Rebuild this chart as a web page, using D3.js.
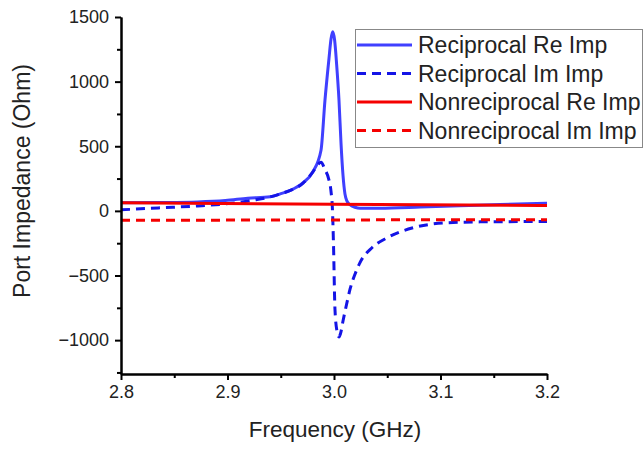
<!DOCTYPE html>
<html>
<head>
<meta charset="utf-8">
<script src="https://cdn.jsdelivr.net/npm/d3@7"></script>
<style>
  body { margin: 0; background: #fff; }
  text { font-family: "Liberation Sans", Arial, sans-serif; fill: #222; }
</style>
</head>
<body>
<div id="chart"></div>
<script>
// reciprocal case, real part (Ohm) vs frequency (GHz)
const recReFreq = [2.8, 2.835, 2.872, 2.898, 2.919, 2.94, 2.951, 2.959, 2.971, 2.98, 2.9878, 2.9915,
  2.9953, 2.9972, 2.9988, 3.0006, 3.0025, 3.0047, 3.0066, 3.0085, 3.0103, 3.0122, 3.015, 3.0197,
  3.0244, 3.043, 3.081, 3.118, 3.156, 3.2]
const recReVal = [62, 64, 69, 80, 98, 110, 135, 158, 218, 300, 469, 854,
  1180, 1330, 1385, 1320, 1130, 854, 520, 270, 130, 75, 48, 28,
  20, 21, 30, 40, 50, 60]

// reciprocal case, imaginary part
const recImFreq = [2.8, 2.835, 2.872, 2.898, 2.926, 2.94, 2.951, 2.959, 2.971, 2.98, 2.985, 2.9878,
  2.9915, 2.9953, 2.9972, 2.9986, 2.9995, 3.0009, 3.0028, 3.0047, 3.0061, 3.0085, 3.0122, 3.015,
  3.0197, 3.0244, 3.0357, 3.0498, 3.0742, 3.1061, 3.1371, 3.2]
const recImVal = [8, 23, 38, 54, 85, 108, 135, 158, 215, 300, 360, 377,
  320, 238, 150, 0, -250, -760, -930, -975, -950, -850, -708, -608,
  -490, -400, -285, -208, -131, -92, -85, -82]

// nonreciprocal case, nearly flat
const nonFreq = [2.8, 3.0, 3.2]
const nonReVal = [63, 52, 42]
const nonImVal = [-73, -70, -68]

const xTicks = [2.8, 2.9, 3.0, 3.1, 3.2]
const xMinor = [2.85, 2.95, 3.05, 3.15]
const yTicks = [-1000, -500, 0, 500, 1000, 1500]
const yMinor = [-1250, -750, -250, 250, 750, 1250]

const seriesNames = ['Reciprocal Re Imp', 'Reciprocal Im Imp', 'Nonreciprocal Re Imp', 'Nonreciprocal Im Imp']

const width = 644, height = 449
const svg = d3.select('#chart').append('svg')
  .attr('width', width).attr('height', height)

const x = d3.scaleLinear().domain([2.8, 3.2]).range([121, 547])
const y = d3.scaleLinear().domain([-1262, 1500]).range([374, 17])

const series = [
  { name: seriesNames[0], fx: recReFreq, v: recReVal, color: '#4040ff', dash: null },
  { name: seriesNames[1], fx: recImFreq, v: recImVal, color: '#1414e6', dash: '9,6' },
  { name: seriesNames[2], fx: nonFreq, v: nonReVal, color: '#f50000', dash: null },
  { name: seriesNames[3], fx: nonFreq, v: nonImVal, color: '#f50000', dash: '9,6' }
]

const line = d3.line()
  .x(d => x(d[0]))
  .y(d => y(d[1]))
  .curve(d3.curveMonotoneX)

series.forEach(s => {
  svg.append('path')
    .datum(s.fx.map((f, i) => [f, s.v[i]]))
    .attr('fill', 'none')
    .attr('stroke', s.color)
    .attr('stroke-width', 3)
    .attr('stroke-dasharray', s.dash)
    .attr('d', line)
})

// axes
const xAxis = svg.append('g').attr('transform', 'translate(0,374)')
  .call(d3.axisBottom(x).tickValues(xTicks).tickFormat(d3.format('.1f')).tickSize(6).tickSizeOuter(0).tickPadding(5))
const xAxisMinor = svg.append('g').attr('transform', 'translate(0,374)')
  .call(d3.axisBottom(x).tickValues(xMinor).tickFormat('').tickSize(4).tickSizeOuter(0))
const yAxis = svg.append('g').attr('transform', 'translate(121,0)')
  .call(d3.axisLeft(y).tickValues(yTicks).tickFormat(d3.format('d')).tickSize(6).tickSizeOuter(0).tickPadding(6))
const yAxisMinor = svg.append('g').attr('transform', 'translate(121,0)')
  .call(d3.axisLeft(y).tickValues(yMinor).tickFormat('').tickSize(4).tickSizeOuter(0))

;[xAxis, xAxisMinor, yAxis, yAxisMinor].forEach(g => {
  g.select('.domain').attr('stroke', '#000').attr('stroke-width', 2)
  g.selectAll('.tick line').attr('stroke', '#000').attr('stroke-width', 2)
  g.selectAll('.tick text').style('font-size', '18px').attr('fill', '#222')
    .style('font-family', '"Liberation Sans", Arial, sans-serif')
})
// minus sign like the original
yAxis.selectAll('.tick text').text(d => d < 0 ? '\u2212' + Math.abs(d) : d)

// axis titles
svg.append('text')
  .attr('x', 335).attr('y', 437)
  .attr('text-anchor', 'middle')
  .style('font-size', '22.5px')
  .text('Frequency (GHz)')

svg.append('text')
  .attr('transform', 'translate(30,181) rotate(-90)')
  .attr('text-anchor', 'middle')
  .style('font-size', '23px')
  .text('Port Impedance (Ohm)')

// legend
const legend = svg.append('g')
legend.append('rect')
  .attr('x', 355.5).attr('y', 29.5)
  .attr('width', 287).attr('height', 118)
  .attr('fill', '#fff').attr('stroke', '#888').attr('stroke-width', 1)

series.forEach((s, i) => {
  const ly = 45 + i * 28.5
  legend.append('line')
    .attr('x1', 357).attr('x2', 412)
    .attr('y1', ly).attr('y2', ly)
    .attr('stroke', s.color).attr('stroke-width', 3)
    .attr('stroke-dasharray', s.dash)
  legend.append('text')
    .attr('x', 418).attr('y', ly + 8)
    .style('font-size', '23px')
    .text(s.name)
})
</script>
</body>
</html>
